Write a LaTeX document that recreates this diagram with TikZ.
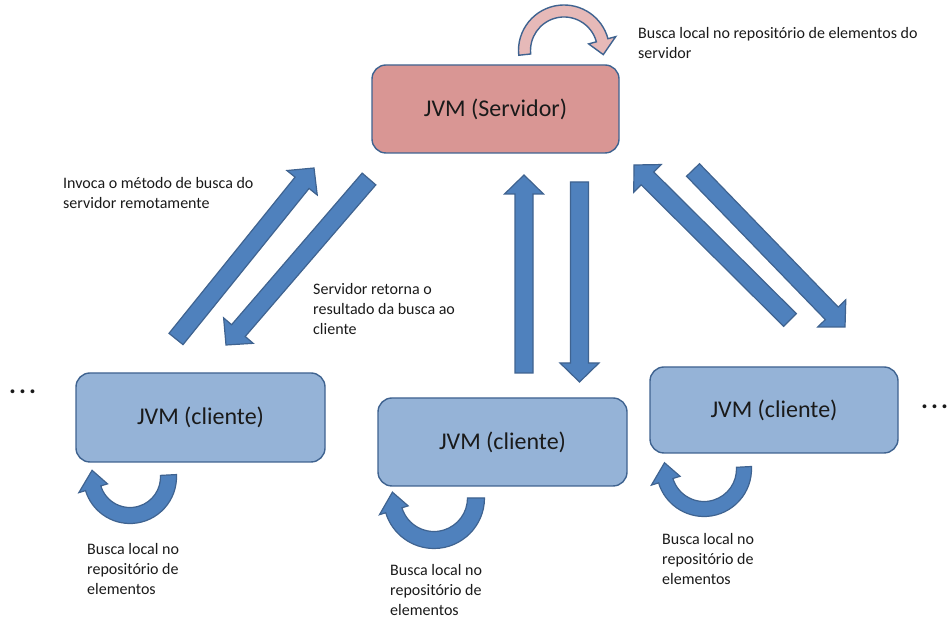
\documentclass[tikz,border=0pt]{standalone}
\usepackage{fontspec}
\setmainfont{Carlito}
\usetikzlibrary{calc}
\definecolor{serverfill}{HTML}{D99694}
\definecolor{serverarc}{HTML}{E6B9B8}
\definecolor{clientfill}{HTML}{95B3D7}
\definecolor{arrowblue}{HTML}{4F81BD}
\definecolor{edgeblue}{HTML}{3F6390}
\definecolor{txt}{HTML}{1A1A1A}
\tikzset{
 jvmbox/.style={draw=edgeblue, line width=1.4pt, rounded corners=14pt, font=\fontsize{24}{28}\selectfont, text=txt, inner sep=0pt},
 server/.style={jvmbox, fill=serverfill, minimum width=247pt, minimum height=88pt},
 client/.style={jvmbox, fill=clientfill, minimum width=249pt, minimum height=88pt},
 blockarr/.style={fill=arrowblue, draw=edgeblue, line width=1.2pt, line join=miter},
 loopblue/.style={fill=arrowblue, draw=edgeblue, line width=1.2pt},
 looppink/.style={fill=serverarc, draw=edgeblue, line width=1.4pt},
 note/.style={font=\fontsize{16}{20}\selectfont, text=txt, align=left, anchor=north west, inner sep=0pt},
 dots/.style={font=\fontsize{26}{28}\selectfont\bfseries, text=txt, anchor=base west, inner sep=0pt}
}
% block arrow from tail coordinate #1 to tip coordinate #2
\newcommand{\blockarrow}[2]{%
 \coordinate (H) at ($(#2)!19pt!(#1)$);
 \draw[blockarr] ($(#1)!9pt!90:(#2)$) -- ($(H)!9pt!90:(#2)$) -- ($(H)!19.5pt!90:(#2)$) -- (#2)
   -- ($(H)!19.5pt!-90:(#2)$) -- ($(H)!9pt!-90:(#2)$) -- ($(#1)!9pt!-90:(#2)$) -- cycle;}
% circular arrow: #1 centre, #2 mid radius, #3 width, #4 start angle, #5 end angle,
% #6 head half width, #7 head length (deg), #8 style
\newcommand{\circarrow}[8]{%
 \pgfmathsetmacro\caRo{#2+#3/2}%
 \pgfmathsetmacro\caRi{#2-#3/2}%
 \pgfmathsetmacro\caHo{#2+#6}%
 \pgfmathsetmacro\caHi{#2-#6}%
 \pgfmathsetmacro\caTip{#5-#7}%
 \draw[#8] ($(#1)+(#4:\caRo)$) arc[start angle=#4, end angle=#5, radius=\caRo]
   -- ($(#1)+(#5:\caHo)$) -- ($(#1)+(\caTip:#2)$) -- ($(#1)+(#5:\caHi)$)
   -- ($(#1)+(#5:\caRi)$) arc[start angle=#5, end angle=#4, radius=\caRi] -- cycle;}
\begin{document}
\begin{tikzpicture}[x=1pt,y=1pt]
\useasboundingbox (0,0) rectangle (952,620);
% boxes
\node[server] (srv) at (495.5,511) {JVM (Servidor)};
\node[client, minimum height=89pt] (c1) at (200.5,202.5) {JVM (cliente)};
\node[client] (c2) at (502.5,178) {JVM (cliente)};
\node[client, minimum width=248pt, minimum height=86pt] (c3) at (774,210) {JVM (cliente)};
% straight block arrows
\coordinate (aT) at (176,281); \coordinate (aH) at (314,452);
\coordinate (bT) at (369,441); \coordinate (bH) at (226,275);
\coordinate (cT) at (524,247); \coordinate (cH) at (524,445);
\coordinate (dT) at (579.5,438); \coordinate (dH) at (579.5,238);
\coordinate (eT) at (790,300); \coordinate (eH) at (634,455);
\coordinate (fT) at (693,450); \coordinate (fH) at (845,293);
\blockarrow{aT}{aH}
\blockarrow{bT}{bH}
\blockarrow{cT}{cH}
\blockarrow{dT}{dH}
\blockarrow{eT}{eH}
\blockarrow{fT}{fH}
% circular arrows
\coordinate (sloop) at (564,569.5);
\coordinate (c1loop) at (130,143);
\coordinate (c2loop) at (434,122);
\coordinate (c3loop) at (704,151);
\circarrow{sloop}{39.5}{12}{186}{15}{14}{21}{looppink}
\circarrow{c1loop}{38.5}{16}{3}{-163}{15}{27}{loopblue}
\circarrow{c2loop}{42}{17}{0}{-163}{15}{25}{loopblue}
\circarrow{c3loop}{40}{15}{3}{-163}{15}{26}{loopblue}
% labels
\node[note] (nsrv) at (638,596) {\strut Busca local no repositório de elementos do\\servidor};
\node[note] (ninv) at (63,446) {\strut Invoca o método de busca do\\servidor remotamente};
\node[note] (nret) at (313,340) {\strut Servidor retorna o\\resultado da busca ao\\cliente};
\node[note] (nc1) at (87,80) {\strut Busca local no\\repositório de\\elementos};
\node[note] (nc2) at (390,59) {\strut Busca local no\\repositório de\\elementos};
\node[note] (nc3) at (662,90) {\strut Busca local no\\repositório de\\elementos};
\node[dots] (dl) at (9,226) {.\hspace{3pt}.\hspace{3pt}.};
\node[dots] (dr) at (921,211) {.\hspace{3pt}.\hspace{3pt}.};
\end{tikzpicture}
\end{document}
